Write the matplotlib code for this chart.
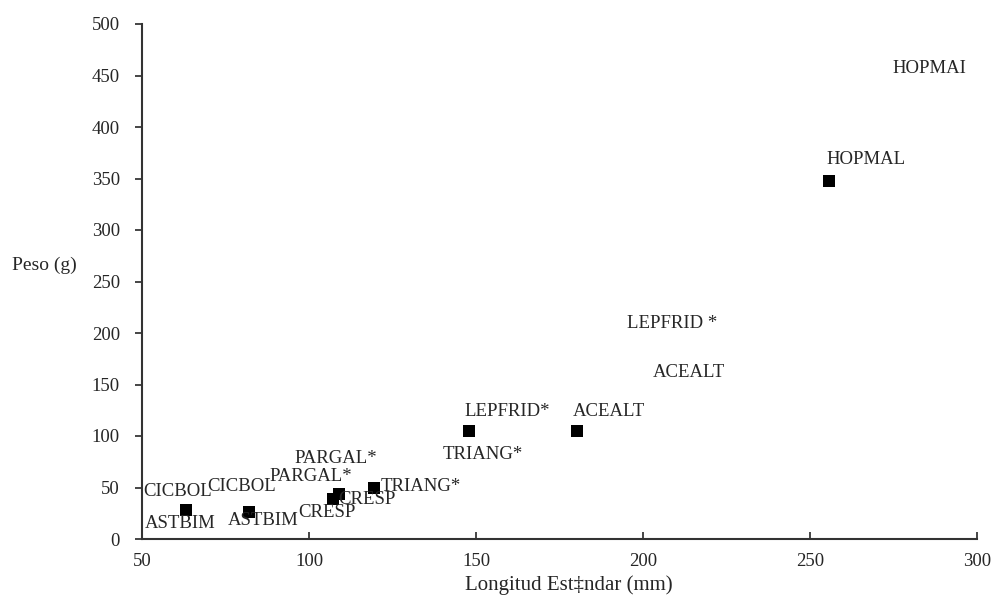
import matplotlib
matplotlib.use("Agg")
import matplotlib.pyplot as plt

plt.rcParams['font.family'] = ['Liberation Serif', 'DejaVu Serif']

# Data points (marked)
pt_x = [63.2, 82.0, 107.1, 108.9, 119.4, 147.8, 180.1, 255.7]
pt_y = [28.2, 26.2, 38.8, 43.7, 49.5, 104.9, 104.9, 347.6]

# Labels (text, x, y) in data units
lab_text = ["HOPMAL", "HOPMAI", "LEPFRID *", "ACEALT", "LEPFRID*", "ACEALT",
            "TRIANG*", "PARGAL*", "PARGAL*", "CICBOL", "CICBOL", "ASTBIM",
            "ASTBIM", "CRESP", "CRESP", "TRIANG*"]
lab_x = [266.8, 274.6, 208.8, 213.9, 159.2, 189.7, 152.0, 108.0, 100.5,
         79.9, 60.8, 61.4, 86.2, 105.3, 117.3, 133.4]
lab_y = [368, 457, 209.7, 162, 124, 124, 82.5, 78.6, 61, 50.5, 46.6,
         14.6, 18.4, 26.2, 38.8, 50.5]
lab_ha = ["center", "left", "center", "center", "center", "center", "center",
          "center", "center", "center", "center", "center", "center", "center",
          "center", "center"]

x_ticks = [50, 100, 150, 200, 250, 300]
y_ticks = [0, 50, 100, 150, 200, 250, 300, 350, 400, 450, 500]

TXT = '#262626'

fig = plt.figure(figsize=(9.95, 5.95), dpi=100)
ax = fig.add_axes([142/995, 1 - 539/595, 835/995, 515/595])

ax.scatter(pt_x, pt_y, marker='s', s=70, color='black', linewidths=0,
           zorder=3)

for t, x, y, ha in zip(lab_text, lab_x, lab_y, lab_ha):
    ax.text(x, y, t, ha=ha, va='center', fontsize=13.5, color=TXT,
            clip_on=False)

ax.set_xlim(50, 300)
ax.set_ylim(0, 500)
ax.set_xticks(x_ticks)
ax.set_yticks(y_ticks)
ax.tick_params(axis='x', direction='in', length=5, width=1.2, labelsize=13.5,
               pad=10, colors=TXT)
ax.tick_params(axis='y', direction='out', length=5, width=1.2, labelsize=13.5,
               pad=11, colors=TXT)
for s in ['top', 'right']:
    ax.spines[s].set_visible(False)
for s in ['left', 'bottom']:
    ax.spines[s].set_linewidth(1.5)
    ax.spines[s].set_color('#333333')

ax.set_xlabel('Longitud Est\u2021ndar (mm)', fontsize=15, color=TXT)
ax.xaxis.set_label_coords(0.511, -0.089)
ax.xaxis.label.set_va('center')
ax.set_ylabel('Peso (g)', rotation=0, fontsize=14, color=TXT,
              ha='center', va='center')
ax.yaxis.set_label_coords(-0.1168, 0.532)

fig.savefig('out.png', dpi=100)
